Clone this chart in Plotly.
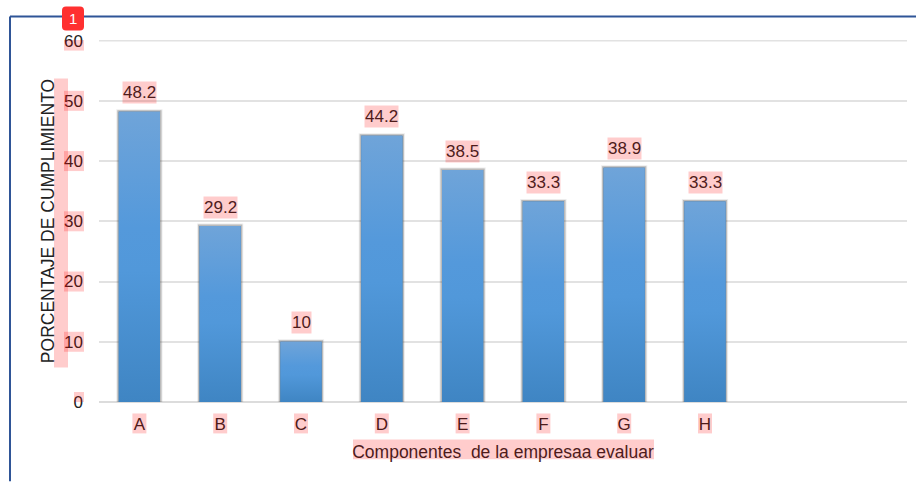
import plotly.graph_objects as go

categories = ["A", "B", "C", "D", "E", "F", "G", "H"]
values = [48.2, 29.2, 10, 44.2, 38.5, 33.3, 38.9, 33.3]
value_labels = ["48.2", "29.2", "10", "44.2", "38.5", "33.3", "38.9", "33.3"]
y_ticks = [0, 10, 20, 30, 40, 50, 60]
y_title = "PORCENTAJE DE CUMPLIMIENTO"
x_title = "Componentes  de la empresaa evaluar"

FONT = "Liberation Sans"
SIZE = 17
TITLE_SIZE = 17.5
INK = "#222222"
INK_TINT = "#4e1b1b"
PINK = "rgba(255,0,0,0.2)"
GRID = "#e2e2e2"
W, H = 916, 482
L, R, T, B = 99, 907, 39.5, 402.5
BAR_W = 0.51
xs = list(range(len(categories)))


def px(v):
    return (v - L) / (R - L)


def py(v):
    return (B - v) / (B - T)


fig = go.Figure()
# soft halo around the bars
for halo_width, halo_alpha in ((5, 0.1), (3, 0.3)):
    fig.add_trace(go.Bar(
        x=xs, y=values, width=BAR_W,
        marker=dict(color="#5b9bd5",
                    line=dict(color=f"rgba(70,70,70,{halo_alpha})", width=halo_width)),
        hoverinfo="skip", showlegend=False,
    ))
# vertical gradient on every bar
for x, v in zip(xs, values):
    a, b = x - BAR_W / 2, x + BAR_W / 2
    fig.add_trace(go.Scatter(
        x=[a, b, b, a, a], y=[0, 0, v, v, 0], mode="lines", fill="toself",
        line=dict(width=0),
        fillgradient=dict(type="vertical", colorscale=[
            [0, "#3f85c3"], [0.45, "#5198da"], [0.6, "#5499db"], [1, "#6fa4d9"]]),
        hoverinfo="skip", showlegend=False,
    ))

annotations = []
for x, v, t in zip(xs, values, value_labels):
    annotations.append(dict(
        x=x, y=v, text=t, showarrow=False, yshift=19, xanchor="center", yanchor="middle",
        font=dict(family=FONT, size=SIZE, color=INK_TINT),
        bgcolor=PINK, borderpad=0, height=21,
    ))
annotations.append(dict(
    xref="paper", yref="paper", x=px(73), y=py(18), text="1", showarrow=False,
    xanchor="center", yanchor="middle",
    font=dict(family=FONT, size=15, color="#ffffff"),
))

shapes = []
# top gridline, which the axis leaves out at the edge of its range
shapes.append(dict(type="line", layer="below", xref="paper", yref="y",
                   x0=0, x1=1, y0=y_ticks[-1], y1=y_ticks[-1],
                   line=dict(color=GRID, width=2)))
# pink highlights that sit over the axis labels
for t in y_ticks:
    width = 10 if t == 0 else 20
    shapes.append(dict(
        type="rect", layer="above", line_width=0, fillcolor=PINK,
        xref="paper", yref="y", ysizemode="pixel", yanchor=t, y0=-10, y1=10,
        x0=px(84 - width), x1=px(84),
    ))
for x, c in zip(xs, categories):
    half = 7
    shapes.append(dict(
        type="rect", layer="above", line_width=0, fillcolor=PINK,
        xref="x", yref="paper", xsizemode="pixel", xanchor=x, x0=-half, x1=half,
        y0=py(434), y1=py(414),
    ))
shapes.append(dict(type="rect", layer="above", line_width=0, fillcolor=PINK,
                   xref="paper", yref="paper",
                   x0=px(54), x1=px(68), y0=py(368), y1=py(78)))
shapes.append(dict(type="rect", layer="below", line_width=0, fillcolor=PINK,
                   xref="paper", yref="paper",
                   x0=px(353), x1=px(654), y0=py(460), y1=py(440)))
# frame of the screenshot
shapes.append(dict(type="line", xref="paper", yref="paper", layer="above",
                   x0=px(10), x1=px(W), y0=py(16), y1=py(16),
                   line=dict(color="#2f5597", width=2)))
shapes.append(dict(type="line", xref="paper", yref="paper", layer="above",
                   x0=px(10), x1=px(10), y0=py(16), y1=py(H),
                   line=dict(color="#2f5597", width=2)))
# red badge
x0, x1, y0, y1, r = px(62), px(84), py(30), py(6), 4 / (R - L)
ry = 4 / (B - T)
shapes.append(dict(
    type="path", xref="paper", yref="paper", layer="above", line_width=0,
    fillcolor="#ff3030",
    path=(f"M {x0 + r} {y0} L {x1 - r} {y0} Q {x1} {y0} {x1} {y0 + ry} "
          f"L {x1} {y1 - ry} Q {x1} {y1} {x1 - r} {y1} L {x0 + r} {y1} "
          f"Q {x0} {y1} {x0} {y1 - ry} L {x0} {y0 + ry} Q {x0} {y0} {x0 + r} {y0} Z"),
))

fig.update_layout(
    width=W, height=H, autosize=False,
    margin=dict(l=L, r=W - R, t=T, b=H - B, pad=0),
    paper_bgcolor="#ffffff", plot_bgcolor="#ffffff",
    font=dict(family=FONT, size=SIZE, color=INK),
    showlegend=False, barmode="overlay",
    annotations=annotations, shapes=shapes,
    xaxis=dict(
        range=[-0.5, 9.5], tickmode="array", tickvals=xs, ticktext=categories,
        showgrid=False, zeroline=False, showline=False, ticks="",
        tickfont=dict(family=FONT, size=SIZE, color=INK), ticklabelstandoff=10,
        title=dict(text=x_title, standoff=12,
                   font=dict(family=FONT, size=TITLE_SIZE, color=INK_TINT)),
    ),
    yaxis=dict(
        range=[0, 60.1], tickmode="array", tickvals=y_ticks,
        showgrid=True, gridcolor=GRID, gridwidth=2,
        zeroline=True, zerolinecolor="#dcdcdc", zerolinewidth=2,
        showline=False, ticks="", ticklabelstandoff=15,
        tickfont=dict(family=FONT, size=SIZE, color=INK),
        title=dict(text=y_title, standoff=4,
                   font=dict(family=FONT, size=TITLE_SIZE, color=INK)),
    ),
)

fig.write_html("out.html", config={"displayModeBar": False},
               post_script="document.body.style.margin='0';document.body.style.overflow='hidden';")
